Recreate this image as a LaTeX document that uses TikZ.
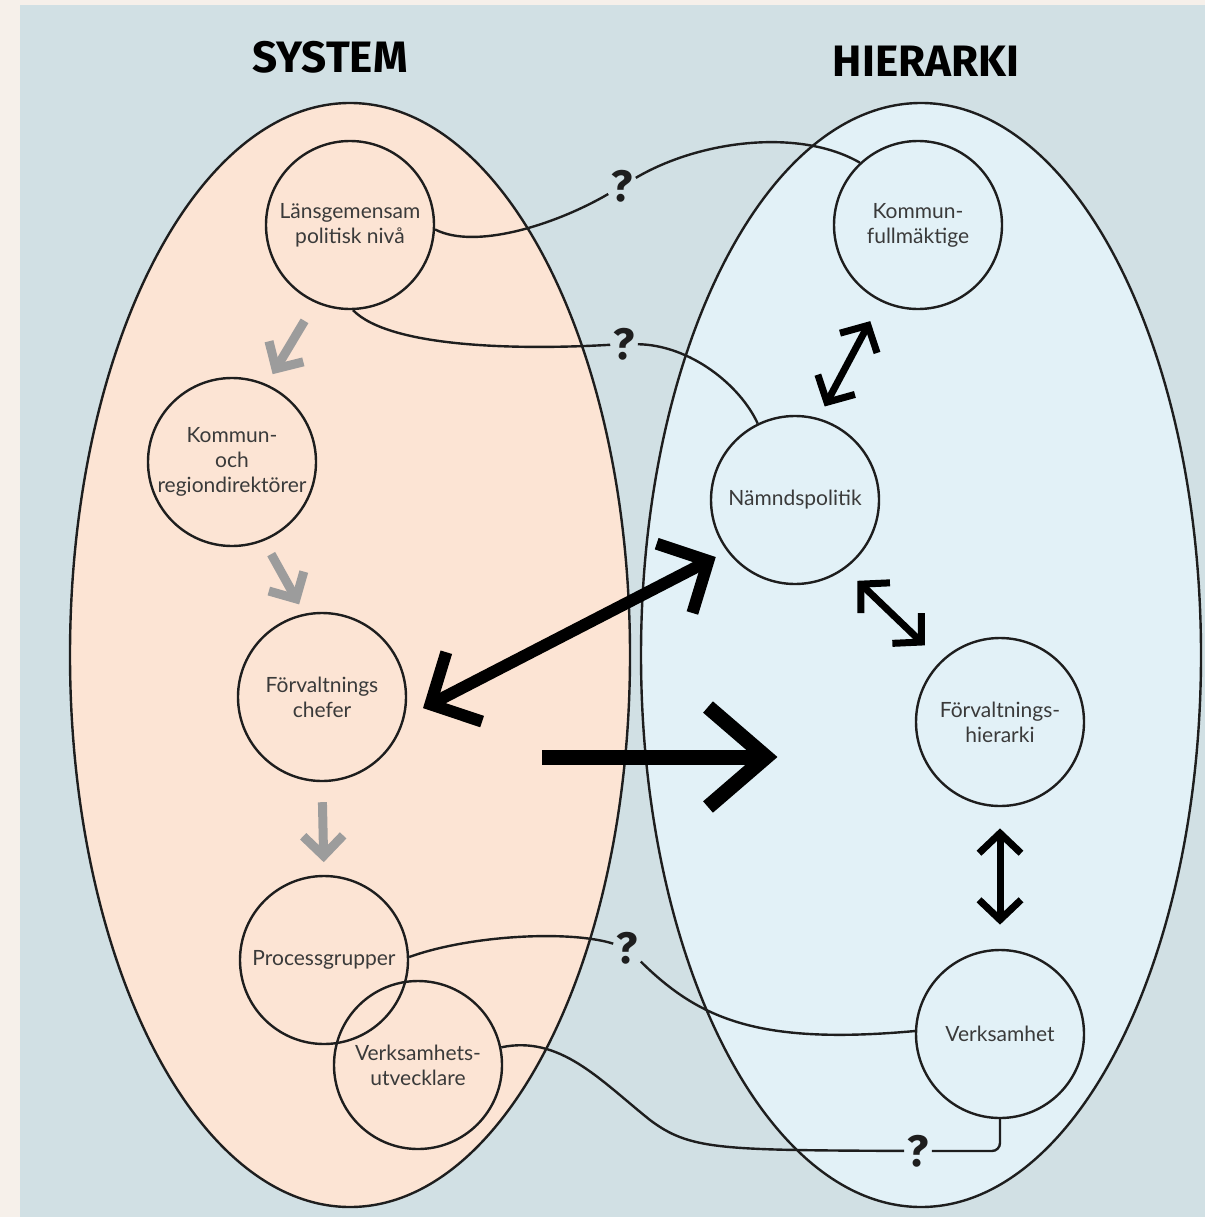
\documentclass[tikz,border=0pt]{standalone}
\usepackage{fontspec}
\setmainfont{Lato}
\newfontfamily\titlefont{Fira Sans}
\usetikzlibrary{arrows.meta, positioning}

\definecolor{pagecol}{HTML}{F6F0EA}
\definecolor{bgcol}{HTML}{D1E0E4}
\definecolor{syscol}{HTML}{FCE4D4}
\definecolor{hiercol}{HTML}{E2F1F7}
\definecolor{linecol}{HTML}{1E1E1E}
\definecolor{txtcol}{HTML}{3A3A3A}
\definecolor{arrgray}{HTML}{9C9C9C}

% open chevron tip, stroked as thick as the line
\pgfdeclarearrow{
  name = Chevron,
  parameters = {\the\pgfarrowlength,\the\pgfarrowwidth,\the\pgflinewidth},
  setup code = {
    \pgfarrowssettipend{0pt}
    \pgfarrowssetlineend{-.5\pgflinewidth}
    \pgfarrowssavethe\pgfarrowlength
    \pgfarrowssavethe\pgfarrowwidth
    \pgfarrowsupperhullpoint{-\pgfarrowlength}{.5\pgfarrowwidth}
    \pgfarrowsupperhullpoint{0pt}{0pt}
  },
  drawing code = {
    \pgfsetdash{}{+0pt}
    \pgfsetmiterjoin
    \pgfsetbuttcap
    \pgfpathmoveto{\pgfqpoint{-\pgfarrowlength}{.5\pgfarrowwidth}}
    \pgfpathlineto{\pgfqpoint{0pt}{0pt}}
    \pgfpathlineto{\pgfqpoint{-\pgfarrowlength}{-.5\pgfarrowwidth}}
    \pgfusepathqstroke
  },
  defaults = {length=20pt, width=40pt}
}

\tikzset{
  circ/.style={circle, draw=linecol, line width=2.4pt, minimum size=168pt, inner sep=0pt},
  txt/.style={align=center, text=txtcol, font=\fontsize{21}{25}\selectfont},
  title/.style={text=black, font=\titlefont\bfseries\fontsize{44}{48}\selectfont},
  qmark/.style={text=linecol, font=\titlefont\bfseries\fontsize{44}{46}\selectfont, inner sep=3pt},
  link/.style={draw=linecol, line width=2.4pt},
  grayarrow/.style={draw=arrgray, line width=9pt, -{Chevron[length=20pt, width=40pt]}},
  dblarrow/.style={draw=black, line width=7pt, {Chevron[length=20pt, width=42pt]}-{Chevron[length=20pt, width=42pt]}},
  bigdbl/.style={draw=black, line width=12pt, {Chevron[length=38pt, width=78pt]}-{Chevron[length=38pt, width=78pt]}},
  bigarrow/.style={draw=black, line width=15pt, -{Chevron[length=58pt, width=100pt]}}
}

\begin{document}
\begin{tikzpicture}[x=1pt, y=-1pt]
    \useasboundingbox (0,0) rectangle (1205,1217);

    % Background
    \fill[pagecol] (0,0) rectangle (1205,1217);
    \fill[bgcol] (20,5) rectangle (1205,1217);

    % Ellipses
    \draw[fill=syscol, draw=linecol, line width=2.4pt] (350,655) ellipse [x radius=280pt, y radius=552pt];
    \draw[fill=hiercol, draw=linecol, line width=2.4pt] (921,655) ellipse [x radius=280pt, y radius=552pt];

    % Titles
    \node[title] (tsys) at (330,57) {SYSTEM};
    \node[title] (thier) at (926,61) {HIERARKI};

    % System side
    \node[circ, label={[txt]center:{Länsgemensam\\politisk nivå}}] (ls) at (350,225) {};
    \node[circ, label={[txt]center:{Kommun-\\och\\regiondirektörer}}] (kd) at (232,462) {};
    \node[circ, label={[txt]center:{Förvaltnings\\chefer}}] (fc) at (322,697) {};
    \node[circ, label={[txt]center:{Processgrupper}}] (pg) at (324,960) {};
    \node[circ, label={[txt]center:{Verksamhets-\\utvecklare}}] (vu) at (418,1065) {};

    % Hierarki side
    \node[circ, label={[txt]center:{Kommun-\\fullmäktige}}] (kf) at (918,225) {};
    \node[circ, label={[txt]center:{Nämndspolitik}}] (np) at (795,500) {};
    \node[circ, label={[txt]center:{Förvaltnings-\\hierarki}}] (fh) at (1000,722) {};
    \node[circ, label={[txt]center:{Verksamhet}}] (vh) at (1000,1034) {};

    % Question marks
    \node[qmark] (qa) at (622,186) {?};
    \node[qmark] (qb) at (624,344) {?};
    \node[qmark] (qc) at (627,948) {?};
    \node[qmark] (qd) at (918,1151) {?};

    % Links
    \draw[link] (ls.-3) .. controls (475,250) and (555,225) .. (qa);
    \draw[link] (qa) .. controls (700,140) and (800,128) .. (kf.133);
    \draw[link] (ls.-88) .. controls (390,348) and (520,350) .. (qb);
    \draw[link] (qb) .. controls (690,345) and (740,385) .. (np.116);
    \draw[link] (pg.2) .. controls (470,935) and (570,930) .. (qc);
    \draw[link] (qc) .. controls (700,1020) and (760,1045) .. (vh.178);
    \draw[link] (vu.12) .. controls (560,1035) and (600,1080) .. (650,1120)
        .. controls (690,1150) and (720,1150) .. (qd);
    \draw[link, rounded corners=8pt] (qd) -| (vh.south);

    % Gray arrows
    \draw[grayarrow, shorten <=21pt, shorten >=18pt] (ls.246) -- (kd.66);
    \draw[grayarrow, shorten <=15pt, shorten >=17pt] (kd.-68) -- (fc.102);
    \draw[grayarrow, shorten <=20pt, shorten >=19pt] (fc.south) -- (pg.north);

    % Black arrows
    \draw[dblarrow, shorten <=18pt, shorten >=27pt] (np.74) -- (kf.244);
    \draw[dblarrow, shorten <=22pt, shorten >=27pt] (np.-54) -- (fh.134);
    \draw[dblarrow, shorten <=26pt, shorten >=29pt] (fh.south) -- (vh.north);
    \draw[bigdbl, shorten <=29pt, shorten >=21pt] (fc.-14) -- (np.217);
    \coordinate (from) at (542,757);
    \coordinate (to) at (766,757);
    \draw[bigarrow] (from) -- (to);
\end{tikzpicture}
\end{document}
